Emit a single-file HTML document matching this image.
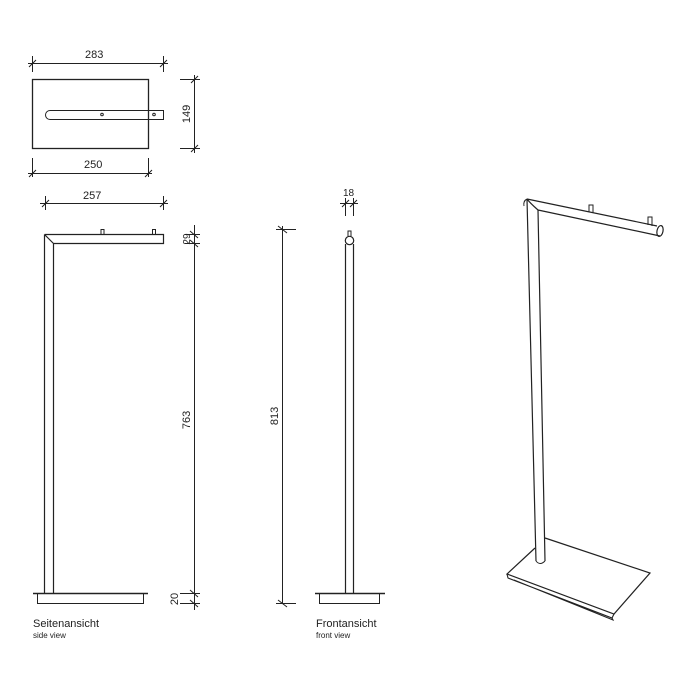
<!DOCTYPE html>
<html><head><meta charset="utf-8"><style>
html,body{margin:0;padding:0;background:#fff;}
svg{display:block}
text{font-family:"Liberation Sans",Arial,sans-serif;fill:#222}
</style></head><body>
<svg width="700" height="700" viewBox="0 0 700 700" xmlns="http://www.w3.org/2000/svg">
<g stroke="#222" fill="none" stroke-width="1">
<!-- Top view -->
<rect x="32.5" y="79.5" width="116" height="69" stroke-width="1.3"/>
<path d="M50 110.5 H163.5 V119.5 H50 A4.5 4.5 0 0 1 50 110.5 Z"/>
<circle cx="102" cy="114.5" r="1.3"/><circle cx="154" cy="114.5" r="1.3"/>
<path d="M32.5 56 V72 M163.5 56 V72 M28 63.5 H168"/>
<path d="M29 67 L36 60 M160 67 L167 60"/>
<path d="M180 79.5 H200 M180 148.5 H200 M194.5 75 V153"/>
<path d="M191 83 L198 76 M191 152 L198 145"/>
<path d="M32.5 158 V177 M148.5 158 V177 M28 173.5 H152"/>
<path d="M29 177 L36 170 M145 177 L152 170"/>
<path d="M45.5 196 V210 M163.5 196 V210 M40 203.5 H168"/>
<path d="M42 207 L49 200 M160 207 L167 200"/>

<!-- Side view -->
<path d="M44.5 234.5 H163.5 V243.5 H53.5 V593 M44.5 234.5 V593 M44.5 234.5 L53.5 243.5" stroke-width="1.2"/>
<path d="M101 234.5 V229.5 H104 V234.5 M152.5 234.5 V229.5 H155.5 V234.5"/>
<path d="M33 593.5 H148" stroke-width="1.5"/>
<path d="M37.5 593.5 V603.5 H143.5 V593.5"/>
<path d="M194.5 225 V610 M185 234.5 H200 M185 243.5 H200 M180 593.5 H200 M180 603.5 H200"/>
<path d="M190 231 L198 238 M190 240 L198 247 M190 590 L198 597 M190 600 L198 607"/>

<!-- Front view -->
<path d="M345.5 244 V593 M353.5 244 V593" stroke-width="1.2"/>
<circle cx="349.5" cy="240.5" r="4.2" stroke-width="1.2"/>
<path d="M348 236 V231 H351 V236"/>
<path d="M315 593.5 H385" stroke-width="1.5"/>
<path d="M319.5 593.5 V603.5 H379.5 V593.5"/>
<path d="M345.5 198 V216 M353.5 198 V216"/>
<path d="M342 207 L349 200 M350 207 L357 200 M340 203.5 H358"/>
<path d="M282.5 226 V604 M276 229.5 H296 M276 603.5 H296"/>
<path d="M278 226 L287 233 M278 600 L287 607"/>

<!-- 3D view -->
<path d="M527 199 L657 226 M538 210 L660 236 M527 199 Q530 203 538 210 M527 199 L536 561 M538 210 L545 561" stroke-width="1.2"/>
<path d="M527 199 Q523 201 524 206" />
<ellipse cx="660" cy="231" rx="3" ry="5.5" transform="rotate(12 660 231)" stroke-width="1.2"/>
<path d="M589 212 V205 H593 V213 M648 225 V217 H652 V226"/>
<path d="M536 561 Q540 566 545 561"/>
<path d="M535 548 L507 574 L614 614 L650 573 L545 538" stroke-width="1.2"/>
<path d="M507 574 L508 578 L612 618 L614 614 M514 580 L613 620 L612 618" stroke-width="1.1"/>
</g>
<g font-size="11">
<text x="85" y="58">283</text>
<text x="84" y="168">250</text>
<text x="83" y="199">257</text>
<text x="343" y="196" font-size="10">18</text>
<text transform="translate(190,114) rotate(-90)" text-anchor="middle">149</text>
<text transform="translate(190,420) rotate(-90)" text-anchor="middle">763</text>
<text transform="translate(278,416) rotate(-90)" text-anchor="middle">813</text>
<text transform="translate(190,239) rotate(-90)" text-anchor="middle" font-size="10">29</text>
<text transform="translate(178,599) rotate(-90)" text-anchor="middle">20</text>
<text x="33" y="627">Seitenansicht</text>
<text x="316" y="627">Frontansicht</text>
<text x="33" y="638" font-size="8">side view</text>
<text x="316" y="638" font-size="8">front view</text>
</g>
</svg>
</body></html>
